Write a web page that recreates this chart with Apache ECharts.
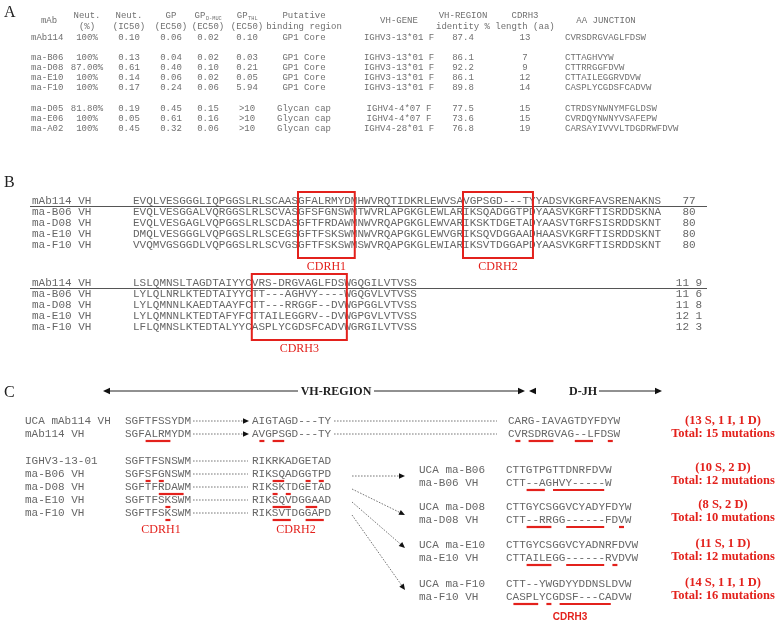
<!DOCTYPE html>
<html><head><meta charset="utf-8">
<script src="https://cdn.jsdelivr.net/npm/echarts@6/dist/echarts.min.js"></script>
<style>html,body{margin:0;padding:0;background:#fff}#c{width:777px;height:623px}</style>
</head><body><div id="c"></div>
<script>
// ---------- Panel A data ----------
const headerLine1 = ['mAb','Neut.','Neut.','GP','GP','GP','Putative','VH-GENE','VH-REGION','CDRH3','AA JUNCTION'];
const headerSub   = ['','','','','D-MUC','THL','','','','',''];
const headerLine2 = ['','(%)','(IC50)','(EC50)','(EC50)','(EC50)','binding region','','identity %','length (aa)',''];
const mAbs = ['mAb114','ma-B06','ma-D08','ma-E10','ma-F10','ma-D05','ma-E06','ma-A02'];
const neutPct = ['100%','100%','87.00%','100%','100%','81.80%','100%','100%'];
const neutIC50 = ['0.10','0.13','0.61','0.14','0.17','0.19','0.05','0.45'];
const gpEC50 = ['0.06','0.04','0.40','0.06','0.24','0.45','0.61','0.32'];
const gpDmucEC50 = ['0.02','0.02','0.10','0.02','0.06','0.15','0.16','0.06'];
const gpThlEC50 = ['0.10','0.03','0.21','0.05','5.94','>10','>10','>10'];
const bindingRegion = ['GP1 Core','GP1 Core','GP1 Core','GP1 Core','GP1 Core','Glycan cap','Glycan cap','Glycan cap'];
const vhGene = ['IGHV3-13*01 F','IGHV3-13*01 F','IGHV3-13*01 F','IGHV3-13*01 F','IGHV3-13*01 F','IGHV4-4*07 F','IGHV4-4*07 F','IGHV4-28*01 F'];
const vhIdentity = ['87.4','86.1','92.2','86.1','89.8','77.5','73.6','76.8'];
const cdrh3Length = ['13','7','9','12','14','15','15','19'];
const aaJunction = ['CVRSDRGVAGLFDSW','CTTAGHVYW','CTTRRGGFDVW','CTTAILEGGRVDVW','CASPLYCGDSFCADVW','CTRDSYNWNYMFGLDSW','CVRDQYNWNYVSAFEPW','CARSAYIVVVLTDGDRWFDVW'];

// ---------- Panel B data ----------
const namesB = ['mAb114 VH','ma-B06 VH','ma-D08 VH','ma-E10 VH','ma-F10 VH'];
const seqB1 = [
 'EVQLVESGGGLIQPGGSLRLSCAASGFALRMYDMHWVRQTIDKRLEWVSAVGPSGD---TYYADSVKGRFAVSRENAKNS',
 'EVQLVESGGALVQRGGSLRLSCVASGFSFGNSWMTWVRLAPGKGLEWLARIKSQADGGTPDYAASVKGRFTISRDDSKNA',
 'EVQLVESGAGLVQPGGSLRLSCDASGFTFRDAWMNWVRQAPGKGLEWVARIKSKTDGETADYAASVTGRFSISRDDSKNT',
 'DMQLVESGGGLVQPGGSLRLSCEGSGFTFSKSWMNWVRQAPGKGLEWVGRIKSQVDGGAADHAASVKGRFTISRDDSKNT',
 'VVQMVGSGGDLVQPGGSLRLSCVGSGFTFSKSWMSWVRQAPGKGLEWIARIKSVTDGGAPDYAASVKGRFTISRDDSKNT'];
const posB1 = ['77','80','80','80','80'];
const seqB2 = [
 'LSLQMNSLTAGDTAIYYCVRS-DRGVAGLFDSWGQGILVTVSS',
 'LYLQLNRLKTEDTAIYYCTT---AGHVY----WGQGVLVTVSS',
 'LYLQMNNLKAEDTAAYFCTT---RRGGF--DVWGPGGLVTVSS',
 'LYLQMNNLKTEDTAFYFCTTAILEGGRV--DVWGPGVLVTVSS',
 'LFLQMNSLKTEDTALYYCASPLYCGDSFCADVWGRGILVTVSS'];
const posB2 = ['11 9','11 6','11 8','12 1','12 3'];
const cdrBoxes = [ {label:'CDRH1', block:1, from:25, to:33.6}, {label:'CDRH2', block:1, from:50, to:60.6}, {label:'CDRH3', block:2, from:18, to:32.4} ];

// ---------- Panel C data ----------
const topNames = ['UCA mAb114 VH','mAb114 VH'];
const topSeq1 = ['SGFTFSSYDM','SGFALRMYDM'];
const topSeq2 = ['AIGTAGD---TY','AVGPSGD---TY'];
const topSeq3 = ['CARG-IAVAGTDYFDYW','CVRSDRGVAG--LFDSW'];
const topMut1 = [[],[[3,6]]];
const topMut2 = [[],[[1,1],[3,4]]];
const topMut3 = [[],[[1,1],[3,6],[10,12],[15,15]]];
const topCounts = ['(13 S, 1 I, 1 D)','Total: 15 mutations'];

const leftNames = ['IGHV3-13-01','ma-B06 VH','ma-D08 VH','ma-E10 VH','ma-F10 VH'];
const leftCdr1 = ['SGFTFSNSWM','SGFSFGNSWM','SGFTFRDAWM','SGFTFSKSWM','SGFTFSKSWM'];
const leftCdr2 = ['RIKRKADGETAD','RIKSQADGGTPD','RIKSKTDGETAD','RIKSQVDGGAAD','RIKSVTDGGAPD'];
const leftMut1 = [[],[[3,3],[5,5]],[[5,8]],[[6,6]],[[6,6]]];
const leftMut2 = [[],[[3,4],[8,8],[10,10]],[[3,3],[5,5]],[[3,5],[8,9]],[[3,5],[8,10]]];

const ucaNames = ['UCA ma-B06','UCA ma-D08','UCA ma-E10','UCA ma-F10'];
const vhNames = ['ma-B06 VH','ma-D08 VH','ma-E10 VH','ma-F10 VH'];
const ucaSeq = ['CTTGTPGTTDNRFDVW','CTTGYCSGGVCYADYFDYW','CTTGYCSGGVCYADNRFDVW','CTT--YWGDYYDDNSLDVW'];
const vhSeq = ['CTT--AGHVY-----W','CTT--RRGG------FDVW','CTTAILEGG------RVDVW','CASPLYCGDSF---CADVW'];
const vhMut = [[[3,5],[7,14]],[[3,6],[9,14],[17,17]],[[3,6],[9,14],[16,16]],[[1,4],[6,6],[8,15]]];
const mutSummary = ['(10 S, 2 D)','(8 S, 2 D)','(11 S, 1 D)','(14 S, 1 I, 1 D)'];
const mutTotals = ['Total: 12 mutations','Total: 10 mutations','Total: 12 mutations','Total: 16 mutations'];

// ---------- drawing ----------
const FM = '"Liberation Mono","Courier New",monospace';
const FS = '"Liberation Serif","Times New Roman",serif';
const GREY = '#666';
const RED = '#e3211c';
const els = [];
function T(x,y,text,o){o=o||{};
  els.push({type:'text',x:x,y:y,silent:true,style:{text:text,fill:o.fill||GREY,
    font:(o.weight||'normal')+' '+(o.size||11)+'px '+(o.family||FM),
    align:o.align||'left',verticalAlign:'middle',textAlign:o.align||'left',textVerticalAlign:'middle'}});}
function L(x1,y1,x2,y2,o){o=o||{};
  els.push({type:'line',silent:true,shape:{x1:x1,y1:y1,x2:x2,y2:y2},style:{stroke:o.stroke||'#555',lineWidth:o.w||1,lineDash:o.dash||null}});}
function head(x,y,ang,s,col){s=s||6;const a=ang, w=s*0.45;
  const bx=x-s*Math.cos(a), by=y-s*Math.sin(a);
  els.push({type:'polygon',silent:true,shape:{points:[[x,y],[bx-w*Math.sin(a),by+w*Math.cos(a)],[bx+w*Math.sin(a),by-w*Math.cos(a)]]},style:{fill:col||'#111'}});}
function under(x0,cw,y,ranges){(ranges||[]).forEach(r=>{L(x0+r[0]*cw+0.8,y,x0+(r[1]+1)*cw-0.8,y,{stroke:RED,w:2.2});});}

// Panel letters
T(4,13,'A',{family:FS,size:16,fill:'#222'});
T(4,183,'B',{family:FS,size:16,fill:'#222'});
T(4,393,'C',{family:FS,size:16,fill:'#222'});

// ---- Panel A ----
const colX = [49,87,129,171,208,247,304,399,463,525,606];
const AF = 9, AC = '#707070', acw = AF*0.6;
headerLine1.forEach((h,i)=>{
  const single = headerLine2[i]==='';
  if(headerSub[i]){
    const sw = headerSub[i].length*3.2, tw = h.length*acw + sw;
    const x0 = colX[i]-tw/2;
    T(x0,16,h,{size:AF,fill:AC});
    T(x0+h.length*acw+0.5,18.5,headerSub[i],{size:5.3,fill:AC});
  } else {
    T(colX[i], single?21:16, h, {size:AF,fill:AC,align:'center'});
  }
  if(!single) T(colX[i],27,headerLine2[i],{size:AF,fill:AC,align:'center'});
});
const rowYA = [38,58,68,78,88,109,119,129];
const colsA = [neutPct,neutIC50,gpEC50,gpDmucEC50,gpThlEC50,bindingRegion,vhGene,vhIdentity,cdrh3Length];
mAbs.forEach((m,r)=>{
  const y=rowYA[r];
  T(31,y,m,{size:AF,fill:AC});
  colsA.forEach((arr,c)=>T(colX[c+1],y,arr[r],{size:AF,fill:AC,align:'center'}));
  T(565,y,aaJunction[r],{size:AF,fill:AC});
});

// ---- Panel B ----
const bx0 = 133, bcw = 6.6;
const rowYB1 = [201,212,223,234,245];
const rowYB2 = [283,294,305,316,327];
[[seqB1,posB1,rowYB1],[seqB2,posB2,rowYB2]].forEach(([seqs,pos,ys])=>{
  seqs.forEach((s,i)=>{
    T(32,ys[i],namesB[i],{fill:GREY});
    T(bx0,ys[i],s,{fill:GREY});
    T(689,ys[i],pos[i],{fill:GREY,align:'center'});
  });
  L(30,ys[0]+5.5,707,ys[0]+5.5,{stroke:'#555',w:1});
});
cdrBoxes.forEach(b=>{
  const ys = b.block===1?rowYB1:rowYB2;
  const x1=bx0+b.from*bcw, x2=bx0+b.to*bcw, y1=ys[0]-9, y2=ys[4]+13;
  els.push({type:'rect',silent:true,shape:{x:x1,y:y1,width:x2-x1,height:y2-y1},style:{fill:null,stroke:RED,lineWidth:2}});
  T((x1+x2)/2,y2+9,b.label,{family:FS,size:12,fill:RED,align:'center'});
});

// ---- Panel C ----
const ay = 391;
L(106,ay,298,ay,{stroke:'#222'}); L(374,ay,522,ay,{stroke:'#222'});
head(103,ay,Math.PI,7); head(525,ay,0,7); head(529,ay,Math.PI,7);
T(336,ay+1,'VH-REGION',{family:FS,size:12,weight:'bold',fill:'#222',align:'center'});
T(583,ay+1,'D-JH',{family:FS,size:12,weight:'bold',fill:'#222',align:'center'});
L(599,ay,658,ay,{stroke:'#222'}); head(662,ay,0,7);

const ccw = 6.6, cx1 = 125, cx2 = 252, cx3 = 508, rx = 419, rsx = 506, ucy = 7;
const dot = {stroke:'#555',w:0.8,dash:[1.6,1.4]};
const topY = [421,434];
topNames.forEach((n,i)=>{
  const y=topY[i];
  T(25,y,n); T(cx1,y,topSeq1[i]); T(cx2,y,topSeq2[i]); T(cx3,y,topSeq3[i]);
  L(193,y,244,y,dot); head(249,y,0,6);
  L(334,y,497,y,dot);
  under(cx1,ccw,y+ucy,topMut1[i]); under(cx2,ccw,y+ucy,topMut2[i]); under(cx3,ccw,y+ucy,topMut3[i]);
  T(723,y,topCounts[i],{family:FS,size:12.5,weight:'bold',fill:RED,align:'center'});
});
const leftY = [461,474,487,500,513];
leftNames.forEach((n,i)=>{
  const y=leftY[i];
  T(25,y,n); T(cx1,y,leftCdr1[i]); T(cx2,y,leftCdr2[i]);
  L(193,y,248,y,dot);
  under(cx1,ccw,y+ucy,leftMut1[i]); under(cx2,ccw,y+ucy,leftMut2[i]);
});
T(161,530,'CDRH1',{family:FS,size:12,fill:RED,align:'center'});
T(296,530,'CDRH2',{family:FS,size:12,fill:RED,align:'center'});

const grpY = [470,507,545,584];
const sumY = [468,505,544,583];
const arrowEndY = [476,515,548,590];
grpY.forEach((y,i)=>{
  T(rx,y,ucaNames[i]); T(rx,y+13,vhNames[i]);
  T(rsx,y,ucaSeq[i]); T(rsx,y+13,vhSeq[i]);
  under(rsx,ccw,y+13+ucy,vhMut[i]);
  T(723,sumY[i],mutSummary[i],{family:FS,size:12.5,weight:'bold',fill:RED,align:'center'});
  T(723,sumY[i]+13,mutTotals[i],{family:FS,size:12.5,weight:'bold',fill:RED,align:'center'});
  const sx=352, sy=(i===0?476:leftY[i+1]+2), ex=405, ey=arrowEndY[i];
  const ang=Math.atan2(ey-sy,ex-sx);
  L(sx,sy,ex-5*Math.cos(ang),ey-5*Math.sin(ang),dot); head(ex,ey,ang,6);
});
T(570,617,'CDRH3',{family:'"Liberation Sans",Arial,sans-serif',size:10,weight:'bold',fill:RED,align:'center'});

const chart = echarts.init(document.getElementById('c'),null,{renderer:'canvas'});
chart.setOption({animation:false,backgroundColor:'#fff',graphic:{elements:els}});
</script></body></html>
